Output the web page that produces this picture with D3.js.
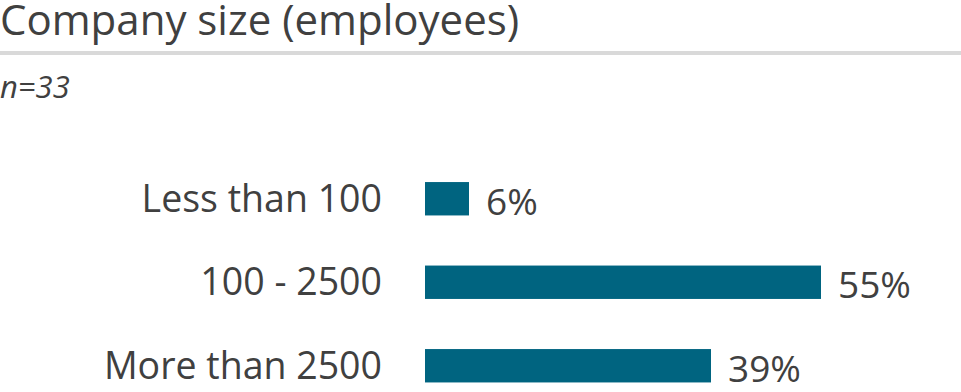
<!DOCTYPE html>
<html>
<head>
<meta charset="utf-8">
<script src="https://cdn.jsdelivr.net/npm/d3@7"></script>
<style>
  body { margin: 0; background: #fff; }
  svg { display: block; font-family: "Open Sans", sans-serif; }
</style>
</head>
<body>
<svg id="chart" width="961" height="392"></svg>
<script>
const title = "Company size (employees)";
const sampleSize = 33;
const categories = ["Less than 100", "100 - 2500", "More than 2500"];
const counts = [2, 18, 13];

const svg = d3.select("#chart");
const width = +svg.attr("width");
const textColor = "#404040";
const barColor = "#006480";

const rows = categories.map((c, i) => ({ label: c, share: counts[i] / sampleSize }));

// header
svg.append("text")
  .attr("x", 0).attr("y", 35)
  .attr("font-size", 42)
  .attr("fill", textColor)
  .text(title);
svg.append("rect")
  .attr("x", 0).attr("y", 51)
  .attr("width", width).attr("height", 4)
  .attr("fill", "#d9d9d9");
svg.append("text")
  .attr("x", 0).attr("y", 98)
  .attr("font-size", 31)
  .attr("font-style", "italic")
  .attr("fill", textColor)
  .text(`n=${sampleSize}`);

const y = d3.scaleBand().domain(categories).range([157, 407.5])
  .paddingInner(0.6).paddingOuter(0.3);
const x = d3.scaleLinear().domain([0, 1]).range([425, 1151]);

svg.selectAll("rect.bar").data(rows).join("rect")
  .attr("class", "bar")
  .attr("x", x(0))
  .attr("y", d => y(d.label))
  .attr("width", d => x(d.share) - x(0))
  .attr("height", y.bandwidth())
  .attr("fill", barColor);

svg.selectAll("text.cat").data(rows).join("text")
  .attr("class", "cat")
  .attr("x", 382)
  .attr("y", d => y(d.label) + y.bandwidth() / 2)
  .attr("dy", "0.35em")
  .attr("text-anchor", "end")
  .attr("font-size", 37.5)
  .attr("fill", textColor)
  .text(d => d.label);

svg.selectAll("text.val").data(rows).join("text")
  .attr("class", "val")
  .attr("x", d => x(d.share) + 17)
  .attr("y", d => y(d.label) + y.bandwidth() / 2)
  .attr("dy", "0.43em")
  .attr("font-size", 37)
  .attr("fill", textColor)
  .text(d => `${Math.round(d.share * 100)}%`);
</script>
</body>
</html>
